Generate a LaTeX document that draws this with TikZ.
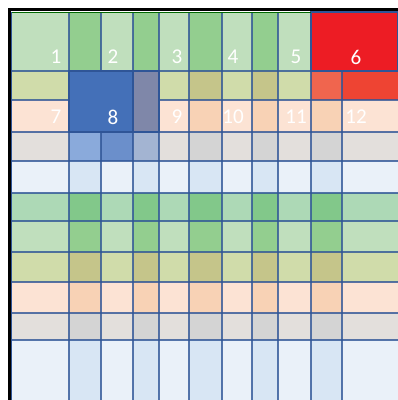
\documentclass[tikz,border=0pt]{standalone}
\usepackage{fontspec}
\setmainfont{Carlito}
\usepackage{xcolor}
\usepackage{tikz}
\usetikzlibrary{positioning}

\definecolor{grnL}{HTML}{C0DFBD}
\definecolor{grnD}{HTML}{93CE8F}
\definecolor{grnL2}{HTML}{ADD9B6}
\definecolor{grnD2}{HTML}{82C88A}
\definecolor{oliL}{HTML}{D0DCAA}
\definecolor{oliD}{HTML}{C5C58A}
\definecolor{pchL}{HTML}{FCE3D4}
\definecolor{pchD}{HTML}{F8D2B5}
\definecolor{gryL}{HTML}{E3DFDC}
\definecolor{gryD}{HTML}{D4D4D4}
\definecolor{bluL}{HTML}{EAF1F9}
\definecolor{bluD}{HTML}{D8E6F4}
\definecolor{gridblue}{HTML}{2F5597}

\begin{document}
\begin{tikzpicture}[
  x=0.02cm, y=-0.02cm,
  gridline/.style={draw=gridblue, line width=0.6pt, opacity=0.8},
  block/.style={draw=gridblue, line width=0.6pt},
  lbl/.style={text=white, font=\fontsize{12}{14}\selectfont, inner sep=0pt}
]

\useasboundingbox (0,0) rectangle (398,400);
\fill[white] (0,0) rectangle (398,400);

% Layer 1: striped cells, light in odd columns, dark in even ones
\foreach \ya/\yb/\lt/\dk in {12/71/grnL/grnD, 71/100/oliL/oliD, 100/132/pchL/pchD,
    132/161/gryL/gryD, 161/193/bluL/bluD, 193/221/grnL2/grnD2, 221/252/grnL/grnD,
    252/282/oliL/oliD, 282/313/pchL/pchD, 313/340/gryL/gryD, 340/400/bluL/bluD}
  \foreach \xa/\xb [count=\c] in {12/69, 69/101, 101/133, 133/159, 159/189, 189/222,
      222/252, 252/278, 278/311, 311/342, 342/398}
  {
    \ifodd\c
      \fill[\lt] (\xa,\ya) rectangle (\xb,\yb);
    \else
      \fill[\dk] (\xa,\ya) rectangle (\xb,\yb);
    \fi
  }

% Layer 2: odd cells in row 2 and row 4
\fill[fill={rgb,255:red,240;green,101;blue,78}] (311,71) rectangle (342,100);
\fill[fill={rgb,255:red,238;green,68;blue,51}] (342,71) rectangle (398,100);
\fill[fill={rgb,255:red,138;green,170;blue,219}] (69,132) rectangle (101,161);
\fill[fill={rgb,255:red,107;green,143;blue,203}] (101,132) rectangle (133,161);
\fill[fill={rgb,255:red,163;green,180;blue,210}] (133,132) rectangle (159,161);

% Grid
\foreach \y in {71, 100, 132, 161, 193, 221, 252, 282, 313, 340}
  \draw[gridline] (12,\y) -- (398,\y);
\foreach \x in {69, 101, 133, 159, 189, 222, 252, 278, 311, 342}
  \draw[gridline] (\x,12) -- (\x,400);

% Merged blocks
\path[block, fill={rgb,255:red,237;green,28;blue,36}] (311,12) rectangle (398,71);
\path[block, fill={rgb,255:red,68;green,112;blue,184}] (69,71) rectangle (133,132);
\path[block, fill={rgb,255:red,127;green,135;blue,169}] (133,71) rectangle (159,132);

% Frame
\draw[green!40!black, line width=0.8pt] (12,12.5) -- (311,12.5);
\draw[gridblue, line width=0.6pt] (11.5,12) -- (11.5,400);
\draw[black, line width=1.7pt] (9.5,400) -- (9.5,9.5) -- (398,9.5);

% Labels
\node[lbl] (c1) at (56,57) {1};
\node[lbl] (c2) at (113,57) {2};
\node[lbl] (c3) at (177,57) {3};
\node[lbl] (c4) at (233,57) {4};
\node[lbl] (c5) at (296,57) {5};
\node[lbl] (c6) at (356,57) {6};
\node[lbl] (c7) at (56,117) {7};
\node[lbl] (c8) at (113,117) {8};
\node[lbl] (c9) at (177,117) {9};
\node[lbl] (c10) at (233,117) {10};
\node[lbl] (c11) at (296,117) {11};
\node[lbl] (c12) at (356,117) {12};

\end{tikzpicture}
\end{document}
